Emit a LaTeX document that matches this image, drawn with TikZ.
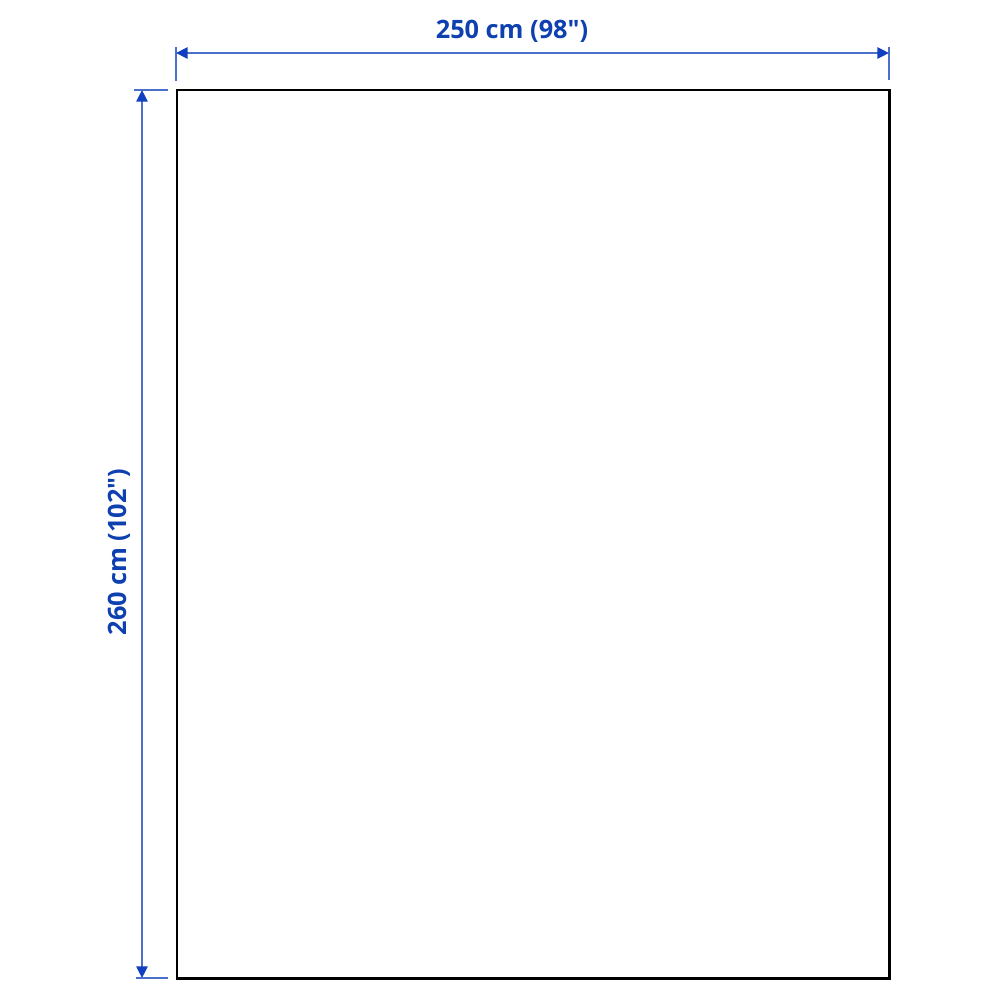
\documentclass[tikz,border=0pt]{standalone}
\usepackage{fontspec}
\newfontfamily\dimfont{Open Sans}
\usetikzlibrary{arrows.meta}

\definecolor{dimline}{RGB}{74,112,204}
\definecolor{dimtip}{RGB}{16,64,192}
\definecolor{dimblue}{RGB}{14,64,176}

\tikzset{
  dimlabel/.style={text=dimblue, font=\dimfont\fontsize{7.2}{8.5}\selectfont\bfseries, inner sep=0pt},
  dimarrow/.style={draw=dimline, line width=0.45pt,
    {Triangle[length=3.3pt,width=3.2pt,color=dimtip]}-{Triangle[length=3.3pt,width=3.2pt,color=dimtip]}},
  extline/.style={draw=dimline, line width=0.45pt}
}

\begin{document}
\begin{tikzpicture}[x=0.01cm, y=-0.01cm]

\useasboundingbox [fill=white] (0,0) rectangle (1000,1000);

% the rug
\coordinate (rugNW) at (177,90);
\coordinate (rugSE) at (889,978);
\draw [line width=0.85pt] (rugNW) rectangle (rugSE);

% width
\coordinate (wL) at (176,53);
\coordinate (wR) at (889,53);
\draw [extline] (176,47) -- (176,81);
\draw [extline] (889,47) -- (889,80);
\draw [dimarrow] (wL) -- (wR);
\node [dimlabel] (wtext) at (512,31) {250 cm (98")};

% length
\coordinate (lT) at (142,90);
\coordinate (lB) at (142,978);
\draw [extline] (134,90) -- (168,90);
\draw [extline] (136,978) -- (168,978);
\draw [dimarrow] (lT) -- (lB);
\node [dimlabel, rotate=90] (ltext) at (119,552) {260 cm (102")};

\end{tikzpicture}
\end{document}
